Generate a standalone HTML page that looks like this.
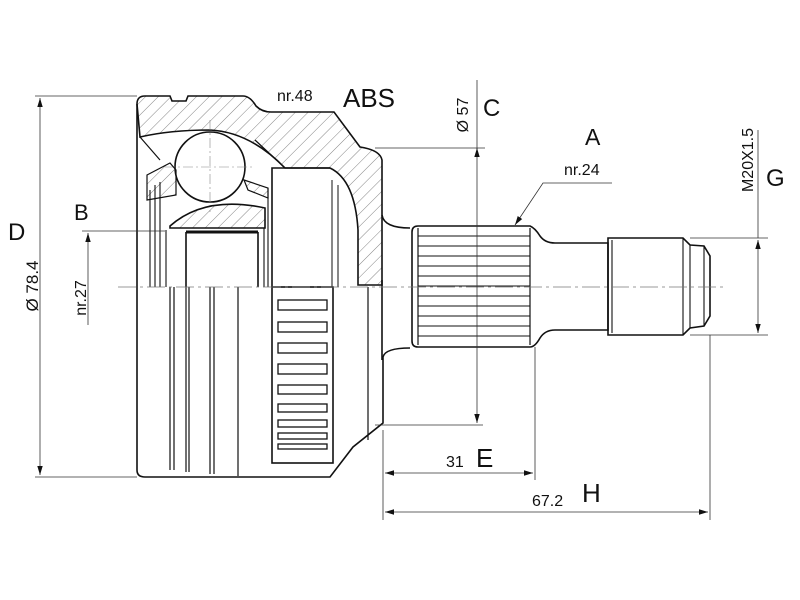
<!DOCTYPE html>
<html><head><meta charset="utf-8"><style>
html,body{margin:0;padding:0;background:#fff;width:800px;height:600px;overflow:hidden}
text{font-family:"Liberation Sans",Arial,sans-serif;fill:#111}
</style></head><body>
<svg width="800" height="600" viewBox="0 0 800 600" xmlns="http://www.w3.org/2000/svg">
<defs>
<pattern id="h" patternUnits="userSpaceOnUse" width="9" height="9" patternTransform="rotate(45)">
<line x1="0" y1="0" x2="0" y2="9" stroke="#666" stroke-width="0.8"/></pattern>
<marker id="ar" viewBox="0 0 10 10" refX="10" refY="5" markerWidth="9" markerHeight="9" markerUnits="userSpaceOnUse" orient="auto-start-reverse"><path d="M0,2 L10,5 L0,8 Z" fill="#111"/></marker>
</defs>
<g fill="none" stroke="#111" stroke-width="1.6">
<path d="M137,104 Q137,96 145,96 L170,96 L172,101 L186,101 L188,96 L243,96 Q250,96 256,106 Q262,112 271,112 L334,112 L360,147 Q380,150 382,160 L382,285 L358,285 L358,230 Q355,180 330,168 L285,168 Q250,132 210,130 Q170,130 140,137 Z" fill="url(#h)"/>
<path d="M137,104 L137,470 Q137,477 145,477 L270,477"/>
<path d="M382,215 Q384,228 410,228"/>
<path d="M382,280 L382,360"/>
<path d="M270,477 L330,477 L353,447 L383,423 L383,357 Q385,348 410,348"/>
<path d="M272,287 L272,168 L330,168"/>
<path d="M332,180 L332,287 M338,185 L338,287" stroke-width="1"/>
<circle cx="210" cy="167" r="35" fill="#fff"/>
<path d="M210,120 L210,212 M165,167 L255,167" stroke="#888" stroke-width="0.6" stroke-dasharray="10,3,2,3"/>
<path d="M147,175 L170,163 L176,170 L176,195 L147,200 Z" fill="url(#h)" stroke-width="1.2"/>
<path d="M244,180 L268,188 L268,198 L248,190 Z" fill="url(#h)" stroke-width="1.2"/>
<path d="M140,137 L160,160 M255,140 L285,168" stroke-width="1.2"/>
<path d="M170,226 Q205,195 265,208 L265,228 L170,228 Z" fill="url(#h)"/>
<path d="M186,232 L258,232" stroke-width="3"/>
<path d="M186,232 L186,287 M258,232 L258,287" />
<path d="M150,190 L150,287 M155,185 L155,287 M160,182 L160,287 M166,230 L166,287" stroke-width="1.1"/>
<path d="M268,188 L268,287 M264,228 L264,287" stroke-width="1.1"/>
<path d="M170,287 L170,470 M174,287 L174,470 M186,287 L186,472 M189,287 L189,472 M210,287 L210,474 M214,287 L214,474 M238,287 L238,476 M368,287 L368,440" stroke-width="1.2"/>
<rect x="272" y="287" width="61" height="176"/>
<g stroke-width="1.3">
<rect x="278" y="300" width="49" height="10"/><rect x="278" y="322" width="49" height="10"/>
<rect x="278" y="343" width="49" height="10"/><rect x="278" y="364" width="49" height="10"/>
<rect x="278" y="385" width="49" height="9"/><rect x="278" y="404" width="49" height="8"/>
<rect x="278" y="420" width="49" height="7"/><rect x="278" y="433" width="49" height="6"/>
<rect x="278" y="444" width="49" height="5"/>
</g>
<path d="M412,232 Q412,226 418,226 L530,226 Q535,228 540,236 Q545,243 555,243 L608,243 L608,330 L555,330 Q545,330 540,338 Q535,347 530,347 L418,347 Q412,347 412,341 Z"/>
<path d="M418,228 L418,345 M530,228 L530,345" stroke-width="1.2"/>
<g stroke-width="0.9">
<path d="M418,236 H530 M418,246 H530 M418,256 H530 M418,266 H530 M418,276 H530 M418,286 H530 M418,296 H530 M418,306 H530 M418,316 H530 M418,326 H530 M418,336 H530"/>
</g>
<path d="M608,243 L608,238 L683,238 L690,245 L704,246 L710,256 L710,316 L704,326 L690,328 L683,335 L608,335 Z"/>
<path d="M612,240 L612,333 M683,238 L683,335 M690,245 L690,328 M704,246 L704,326" stroke-width="1.1"/>
</g>
<path d="M118,287 L725,287" stroke="#777" stroke-width="0.8" stroke-dasharray="18,4,3,4" fill="none"/>
<g stroke="#333" stroke-width="0.8" fill="none">
<path d="M35,96 H137 M35,477 H137"/>
<path d="M40,98 V475" marker-start="url(#ar)" marker-end="url(#ar)"/>
<path d="M82,231 H165"/>
<path d="M88,325 V233" marker-end="url(#ar)"/>
<path d="M375,148 H485 M375,425 H483"/>
<path d="M477,80 V150" /><path d="M477,180 V148" marker-end="url(#ar)"/>
<path d="M477,180 V423" marker-end="url(#ar)"/>
<path d="M383,430 V520 M535,347 V480 M710,335 V520"/>
<path d="M385,473 H533" marker-start="url(#ar)" marker-end="url(#ar)"/>
<path d="M385,512 H708" marker-start="url(#ar)" marker-end="url(#ar)"/>
<path d="M690,238 H768 M690,335 H768"/>
<path d="M758,240 V333" marker-start="url(#ar)" marker-end="url(#ar)"/>
<path d="M758,130 V238"/>
<path d="M612,183 H543 L515,225" marker-end="url(#ar)"/>
</g>
<text x="8" y="240" font-size="24">D</text>
<text x="38" y="286" font-size="17" transform="rotate(-90 38 286)" text-anchor="middle">Ø 78.4</text>
<text x="74" y="220" font-size="22">B</text>
<text x="86" y="298" font-size="16" transform="rotate(-90 86 298)" text-anchor="middle">nr.27</text>
<text x="277" y="101" font-size="16">nr.48</text>
<text x="343" y="107" font-size="26">ABS</text>
<text x="468" y="115" font-size="16" transform="rotate(-90 468 115)" text-anchor="middle">Ø 57</text>
<text x="483" y="116" font-size="24">C</text>
<text x="585" y="145" font-size="23">A</text>
<text x="564" y="175" font-size="16">nr.24</text>
<text x="753" y="160" font-size="16" transform="rotate(-90 753 160)" text-anchor="middle">M20X1.5</text>
<text x="766" y="186" font-size="24">G</text>
<text x="446" y="467" font-size="16">31</text>
<text x="476" y="467" font-size="26">E</text>
<text x="532" y="506" font-size="16">67.2</text>
<text x="582" y="502" font-size="26">H</text>
</svg>
</body></html>
